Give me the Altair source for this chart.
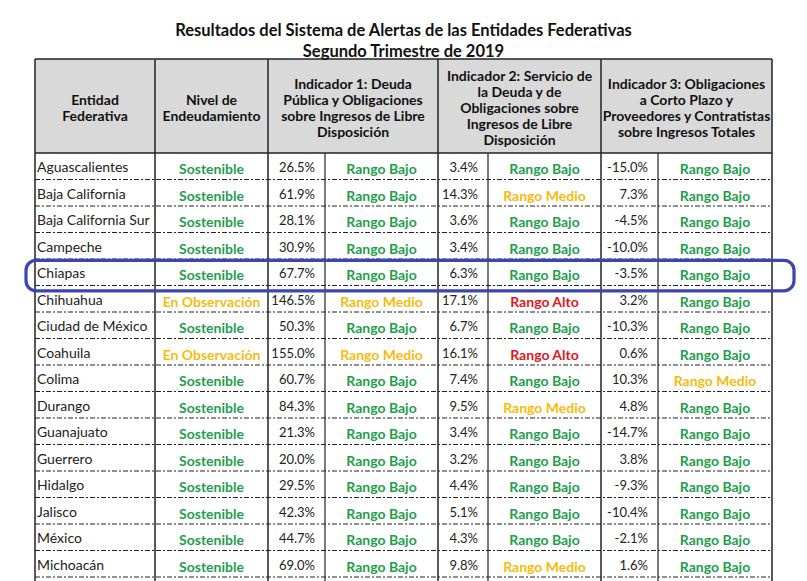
import altair as alt
import pandas as pd

# ---------------- data ----------------
entidades = ["Aguascalientes", "Baja California", "Baja California Sur", "Campeche",
             "Chiapas", "Chihuahua", "Ciudad de México", "Coahuila", "Colima",
             "Durango", "Guanajuato", "Guerrero", "Hidalgo", "Jalisco", "México",
             "Michoacán"]
nivel = ["Sostenible", "Sostenible", "Sostenible", "Sostenible", "Sostenible",
         "En Observación", "Sostenible", "En Observación", "Sostenible", "Sostenible",
         "Sostenible", "Sostenible", "Sostenible", "Sostenible", "Sostenible", "Sostenible"]
ind1 = [26.5, 61.9, 28.1, 30.9, 67.7, 146.5, 50.3, 155.0, 60.7, 84.3, 21.3, 20.0,
        29.5, 42.3, 44.7, 69.0]
rango1 = ["Bajo", "Bajo", "Bajo", "Bajo", "Bajo", "Medio", "Bajo", "Medio", "Bajo",
          "Bajo", "Bajo", "Bajo", "Bajo", "Bajo", "Bajo", "Bajo"]
ind2 = [3.4, 14.3, 3.6, 3.4, 6.3, 17.1, 6.7, 16.1, 7.4, 9.5, 3.4, 3.2, 4.4, 5.1, 4.3, 9.8]
rango2 = ["Bajo", "Medio", "Bajo", "Bajo", "Bajo", "Alto", "Bajo", "Alto", "Bajo",
          "Medio", "Bajo", "Bajo", "Bajo", "Bajo", "Bajo", "Medio"]
ind3 = [-15.0, 7.3, -4.5, -10.0, -3.5, 3.2, -10.3, 0.6, 10.3, 4.8, -14.7, 3.8, -9.3,
        -10.4, -2.1, 1.6]
rango3 = ["Bajo", "Bajo", "Bajo", "Bajo", "Bajo", "Bajo", "Bajo", "Bajo", "Medio",
          "Bajo", "Bajo", "Bajo", "Bajo", "Bajo", "Bajo", "Bajo"]
highlight = "Chiapas"

titulo = ["Resultados del Sistema de Alertas de las Entidades Federativas",
          "Segundo Trimestre de 2019"]
encabezados = ["Entidad\nFederativa",
               "Nivel de\nEndeudamiento",
               "Indicador 1: Deuda\nPública y Obligaciones\nsobre Ingresos de Libre\nDisposición",
               "Indicador 2: Servicio de\nla Deuda y de\nObligaciones sobre\nIngresos de Libre\nDisposición",
               "Indicador 3: Obligaciones\na Corto Plazo y\nProveedores y Contratistas\nsobre Ingresos Totales"]

# ---------------- layout ----------------
W, H = 791, 573
ROW_TOP, ROW_H = 153.0, 26.5
HEADER_TOP = 59.0
HEADER_MID = 109.0
LINE_H = 16
def r_of(ypix):
    return (ypix - ROW_TOP) / ROW_H

main_cols = [35, 155, 268, 438, 601, 772]
sub_cols = [325, 488, 658]
FONT = "Lato"
GREEN, YELLOW, RED = "#1e9f4a", "#f7bb0d", "#e3161b"

xs = alt.Scale(domain=[8, 8 + W], range=[0, W], nice=False, zero=False)
ys = alt.Scale(domain=[r_of(8), r_of(8 + H)], range=[0, H], nice=False, zero=False)
n = len(entidades)

def X(f):
    return alt.X(f, type="quantitative", scale=xs, axis=None)
def Y(f):
    return alt.Y(f, type="quantitative", scale=ys, axis=None)

status_colors = alt.Color("cat:N", legend=None, scale=alt.Scale(
    domain=["Sostenible", "En Observación", "Rango Bajo", "Rango Medio", "Rango Alto"],
    range=[GREEN, YELLOW, GREEN, YELLOW, RED]))

# header background
hdr_bg = alt.Chart(pd.DataFrame({"x": [main_cols[0]], "x2": [main_cols[-1]],
                                 "y": [r_of(HEADER_TOP)], "y2": [0]})).mark_rect(
    color="#d9d9d9").encode(x=X("x"), x2="x2:Q", y=Y("y"), y2="y2:Q")

# header text (first line placed so that the block is centred)
hdr_df = pd.DataFrame({
    "x": [(main_cols[i] + main_cols[i + 1]) / 2 for i in range(5)],
    "y": [r_of(HEADER_MID - (t.count("\n")) * LINE_H / 2) for t in encabezados],
    "t": encabezados})
hdr_text = alt.Chart(hdr_df).mark_text(
    font=FONT, fontSize=14, fontWeight="bold", color="#111", align="center",
    baseline="middle", lineBreak="\n", lineHeight=LINE_H).encode(
    x=X("x"), y=Y("y"), text="t:N")

# title
tit_df = pd.DataFrame({"x": [403.5, 403.5], "y": [r_of(31), r_of(52)], "t": titulo})
tit = alt.Chart(tit_df).mark_text(font=FONT, fontSize=16.5, fontWeight="bold",
                                  color="#111", align="center", baseline="middle").encode(
    x=X("x"), y=Y("y"), text="t:N")

rows = pd.DataFrame({"r": [i + 0.5 for i in range(n)], "x": [37] * n, "ent": entidades})
ent = alt.Chart(rows).mark_text(font=FONT, fontSize=14, color="#222", align="left",
                                baseline="middle", dy=2).encode(
    x=X("x"), y=Y("r"), text="ent:N")

# status cells
cells = []
for i in range(n):
    cells.append({"r": i + 0.5, "x": (155 + 268) / 2, "cat": nivel[i]})
    cells.append({"r": i + 0.5, "x": (325 + 438) / 2, "cat": "Rango " + rango1[i]})
    cells.append({"r": i + 0.5, "x": (488 + 601) / 2, "cat": "Rango " + rango2[i]})
    cells.append({"r": i + 0.5, "x": (658 + 772) / 2, "cat": "Rango " + rango3[i]})
cells = pd.DataFrame(cells)
status = alt.Chart(cells).mark_text(font=FONT, fontSize=14, fontWeight="bold",
                                    align="center", baseline="middle", dy=4).encode(
    x=X("x"), y=Y("r"), text="cat:N", color=status_colors)

vals = []
for i in range(n):
    for v, xr in ((ind1[i], 325), (ind2[i], 488), (ind3[i], 658)):
        vals.append({"r": i + 0.5, "x": xr - 10, "t": f"{v:.1f}%"})
vals = pd.DataFrame(vals)
valtext = alt.Chart(vals).mark_text(font=FONT, fontSize=13, color="#222",
                                    align="right", baseline="middle", dy=2).encode(
    x=X("x"), y=Y("r"), text="t:N")

# grid lines
dash_df = pd.DataFrame({"y": list(range(1, n + 1)), "x": [main_cols[0]] * n,
                        "x2": [main_cols[-1]] * n})
dashes = alt.Chart(dash_df).mark_rule(color="#222", strokeWidth=1,
                                      strokeDash=[5, 2, 2, 2]).encode(
    x=X("x"), x2="x2:Q", y=Y("y"))

hl_df = pd.DataFrame({"y": [r_of(HEADER_TOP), 0], "x": [main_cols[0]] * 2,
                      "x2": [main_cols[-1]] * 2})
hlines = alt.Chart(hl_df).mark_rule(color="#222", strokeWidth=1.6).encode(
    x=X("x"), x2="x2:Q", y=Y("y"))

vm = pd.DataFrame({"x": main_cols, "y": [r_of(HEADER_TOP)] * len(main_cols),
                   "y2": [r_of(8 + H + 20)] * len(main_cols)})
vmain = alt.Chart(vm).mark_rule(color="#222", strokeWidth=1.5).encode(
    x=X("x"), y=Y("y"), y2="y2:Q")
vs = pd.DataFrame({"x": sub_cols, "y": [0] * len(sub_cols),
                   "y2": [r_of(8 + H + 20)] * len(sub_cols)})
vsub = alt.Chart(vs).mark_rule(color="#222", strokeWidth=1.2).encode(
    x=X("x"), y=Y("y"), y2="y2:Q")

# highlight of the selected entity
hi = entidades.index(highlight)
hl = pd.DataFrame({"x": [26], "x2": [794], "y": [hi + 0.05], "y2": [hi + 1.2]})
hlbox = alt.Chart(hl).mark_rect(fillOpacity=0, stroke="#3b46b4", strokeWidth=3.2,
                                cornerRadius=10).encode(
    x=X("x"), x2="x2:Q", y=Y("y"), y2="y2:Q")

chart = alt.layer(hdr_bg, dashes, hlines, vmain, vsub, hdr_text, tit, ent, status,
                  valtext, hlbox).properties(
    width=W, height=H, autosize=alt.AutoSizeParams(type="none"), padding=0,
    background="white").configure_view(stroke=None)

chart.save("out.html", embed_options={"renderer": "svg", "actions": False})
